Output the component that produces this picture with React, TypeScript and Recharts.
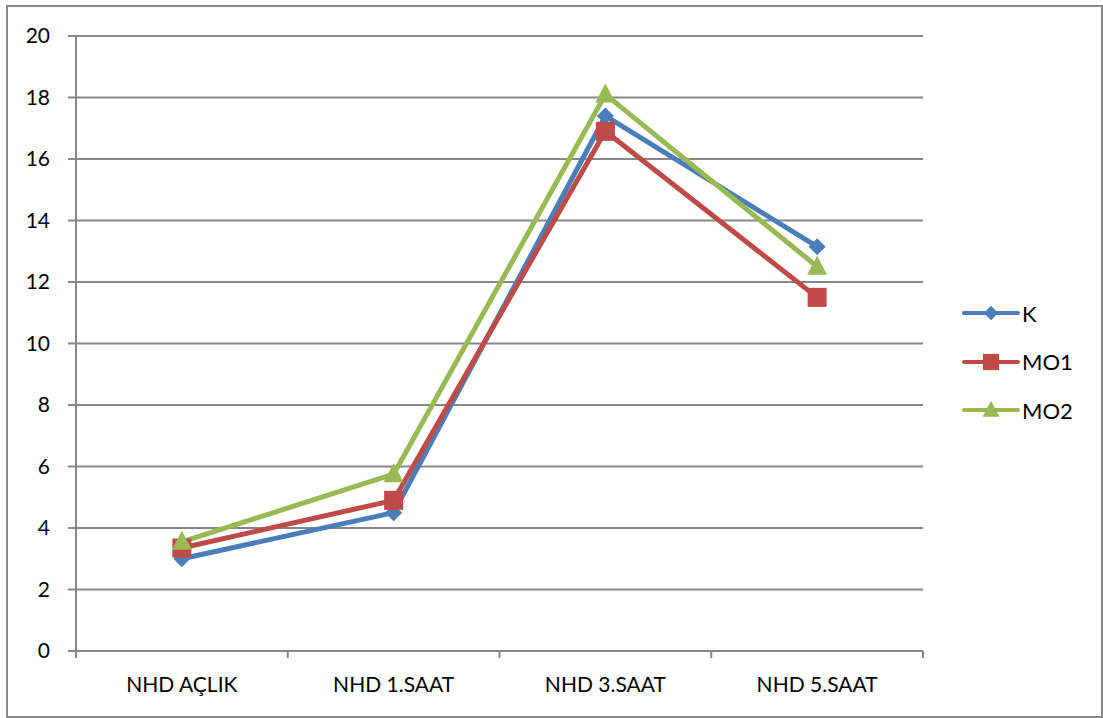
import React from 'react';
import { LineChart, Line, XAxis, YAxis, CartesianGrid } from 'recharts';

const CATEGORIES = ['NHD AÇLIK', 'NHD 1.SAAT', 'NHD 3.SAAT', 'NHD 5.SAAT'];
const K_VALUES = [3.0, 4.5, 17.4, 13.15];
const MO1_VALUES = [3.35, 4.9, 16.9, 11.5];
const MO2_VALUES = [3.55, 5.75, 18.1, 12.5];
const Y_TICKS = [0, 2, 4, 6, 8, 10, 12, 14, 16, 18, 20];

const WIDTH = 1103;
const HEIGHT = 718;
const MARGIN = { top: 36, right: 180, bottom: 17, left: 0 };
const Y_AXIS_WIDTH = 76;
const PLOT_WIDTH = WIDTH - MARGIN.left - MARGIN.right - Y_AXIS_WIDTH;
const BAND = PLOT_WIDTH / CATEGORIES.length;

const GREY = '#878787';
const FONT = 'Lato, "Liberation Sans", sans-serif';

const SERIES = [
  { key: 'K', color: '#4A7EBB', shape: 'diamond' },
  { key: 'MO1', color: '#BE4B48', shape: 'square' },
  { key: 'MO2', color: '#98B954', shape: 'triangle' },
] as const;

const data = CATEGORIES.map((name, i) => ({
  name,
  K: K_VALUES[i],
  MO1: MO1_VALUES[i],
  MO2: MO2_VALUES[i],
}));

type Shape = 'diamond' | 'square' | 'triangle';

function Marker({ shape, cx, cy, color, scale = 1 }: { shape: Shape; cx: number; cy: number; color: string; scale?: number }) {
  if (shape === 'diamond') {
    const r = 8.5 * scale;
    return <path d={`M${cx},${cy - r}L${cx + r},${cy}L${cx},${cy + r}L${cx - r},${cy}Z`} fill={color} />;
  }
  if (shape === 'square') {
    const h = 9.5 * scale;
    return <rect x={cx - h} y={cy - h} width={h * 2} height={h * 2} fill={color} />;
  }
  const w = 10 * scale;
  const t = 11 * scale;
  const b = 8 * scale;
  return <path d={`M${cx},${cy - t}L${cx + w},${cy + b}L${cx - w},${cy + b}Z`} fill={color} />;
}

const makeDot = (shape: Shape, color: string) => (props: any) => {
  const { cx, cy, index } = props;
  if (cx == null || cy == null) return <g key={index} />;
  return <Marker key={index} shape={shape} cx={cx} cy={cy} color={color} />;
};

// category labels sit between boundary tick marks, Excel style
const CategoryTick = (props: any) => {
  const { x, y, payload, index } = props;
  const left = x - BAND / 2;
  const right = x + BAND / 2;
  return (
    <g>
      <line x1={left} x2={left} y1={y} y2={y + 7} stroke={GREY} strokeWidth={2} />
      {index === CATEGORIES.length - 1 && (
        <line x1={right} x2={right} y1={y} y2={y + 7} stroke={GREY} strokeWidth={2} />
      )}
      <text x={x} y={y + 41} textAnchor="middle" fill="#000" fontSize={21} fontFamily={FONT}>
        {payload.value}
      </text>
    </g>
  );
};

function LegendBox() {
  return (
    <div style={{ position: 'absolute', left: 962, top: 289, fontFamily: FONT, fontSize: 22, color: '#000' }}>
      {SERIES.map((s) => (
        <div key={s.key} style={{ display: 'flex', alignItems: 'center', height: 48.5 }}>
          <svg width={58} height={30}>
            <line x1={2} x2={56} y1={15} y2={15} stroke={s.color} strokeWidth={4} strokeLinecap="round" />
            <Marker shape={s.shape} cx={29} cy={15} color={s.color} scale={0.85} />
          </svg>
          <span style={{ marginLeft: 2 }}>{s.key}</span>
        </div>
      ))}
    </div>
  );
}

export default function App() {
  return (
    <div style={{ position: 'absolute', left: 0, top: 0, width: WIDTH, height: HEIGHT, background: '#fff' }}>
      <div
        style={{
          position: 'absolute',
          left: 6,
          top: 5,
          width: 1093,
          height: 709,
          border: `2px solid ${GREY}`,
        }}
      />
      <LineChart width={WIDTH} height={HEIGHT} data={data} margin={MARGIN}>
        <CartesianGrid vertical={false} stroke={GREY} strokeWidth={2} />
        <XAxis
          dataKey="name"
          padding={{ left: BAND / 2, right: BAND / 2 }}
          axisLine={{ stroke: GREY, strokeWidth: 2 }}
          tickLine={false}
          tickSize={0}
          tickMargin={0}
          height={50}
          interval={0}
          tick={<CategoryTick />}
        />
        <YAxis
          domain={[0, 20]}
          ticks={Y_TICKS}
          width={Y_AXIS_WIDTH}
          axisLine={{ stroke: GREY, strokeWidth: 2 }}
          tickLine={{ stroke: GREY, strokeWidth: 2 }}
          tickSize={8}
          tickMargin={18}
          tick={{ fontSize: 21, fill: '#000', fontFamily: FONT }}
          interval={0}
        />
        {SERIES.map((s) => (
          <Line
            key={s.key}
            dataKey={s.key}
            type="linear"
            stroke={s.color}
            strokeWidth={5}
            strokeLinejoin="round"
            dot={makeDot(s.shape, s.color)}
            activeDot={false}
            isAnimationActive={false}
          />
        ))}
      </LineChart>
      <LegendBox />
    </div>
  );
}
